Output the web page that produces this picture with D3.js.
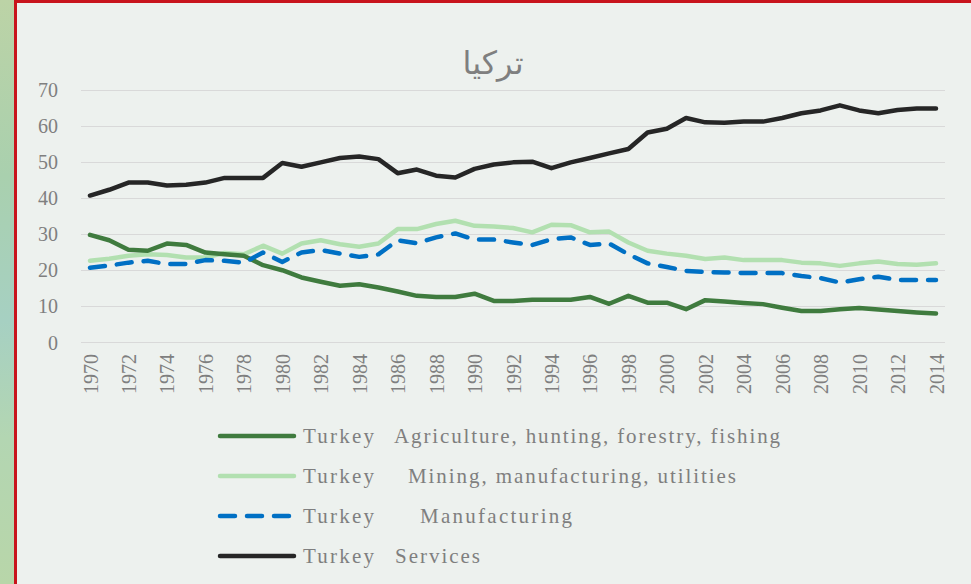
<!DOCTYPE html>
<html>
<head>
<meta charset="utf-8">
<script src="https://cdn.jsdelivr.net/npm/d3@7"></script>
<style>
  html, body { margin: 0; padding: 0; background: #EDF1EE; overflow: hidden; }
  svg { display: block; }
  .serif { font-family: "Liberation Serif", "Times New Roman", serif; }
</style>
</head>
<body>
<svg id="chart" width="971" height="584"></svg>
<script>
const years = d3.range(1970, 2015);
const agriculture = [29.7,28.2,25.6,25.3,27.3,26.9,24.8,24.3,23.9,21.3,19.9,17.9,16.7,15.6,16.0,15.1,14.0,12.8,12.5,12.5,13.4,11.4,11.4,11.7,11.7,11.7,12.5,10.6,12.8,10.9,10.9,9.1,11.6,11.2,10.8,10.5,9.5,8.6,8.6,9.1,9.4,9.0,8.6,8.2,7.9];
const mining = [22.5,23.1,23.9,24.3,24.1,23.4,23.4,24.7,24.3,26.7,24.5,27.3,28.2,27.1,26.4,27.3,31.3,31.3,32.7,33.6,32.2,32.0,31.6,30.4,32.5,32.4,30.4,30.6,27.6,25.3,24.5,23.9,23.0,23.4,22.7,22.7,22.7,22.0,21.8,21.1,21.8,22.3,21.6,21.4,21.8];
const manufacturing = [20.6,21.2,22.0,22.5,21.6,21.6,22.7,22.5,22.0,24.8,22.2,24.8,25.5,24.5,23.6,24.3,28.2,27.4,29.0,30.1,28.4,28.4,27.6,26.9,28.5,29.0,26.9,27.3,24.3,21.8,20.8,19.7,19.4,19.3,19.1,19.1,19.1,18.3,17.7,16.5,17.4,18.1,17.2,17.2,17.2];
const services = [40.6,42.2,44.2,44.2,43.4,43.6,44.2,45.5,45.5,45.5,49.6,48.6,49.8,51.0,51.4,50.7,46.8,47.8,46.1,45.6,48.0,49.2,49.8,50.0,48.2,49.8,51.0,52.3,53.5,58.1,59.1,62.1,60.9,60.8,61.1,61.1,62.1,63.4,64.2,65.6,64.2,63.4,64.3,64.7,64.7];
const yTicks = [0,10,20,30,40,50,60,70];
const xTickYears = d3.range(1970, 2015, 2);
const title = "تركيا";
const seriesNames = ["Agriculture, hunting, forestry, fishing", "Mining, manufacturing, utilities", "Manufacturing", "Services"];
const country = "Turkey";

const svg = d3.select("#chart");
const W = 971, H = 584;

// background decoration
const defs = svg.append("defs");
const g1 = defs.append("linearGradient").attr("id","leftTex").attr("x1",0).attr("y1",0).attr("x2",0).attr("y2",1);
[["0%","#bcd3a6"],["30%","#a9d0ae"],["55%","#a6d0c2"],["75%","#b3d6b2"],["100%","#b8d6a9"]].forEach(s=>g1.append("stop").attr("offset",s[0]).attr("stop-color",s[1]));
svg.append("rect").attr("x",0).attr("y",0).attr("width",W).attr("height",H).attr("fill","#EDF1EE");
svg.append("rect").attr("x",0).attr("y",0).attr("width",14).attr("height",H).attr("fill","url(#leftTex)");
svg.append("rect").attr("x",14).attr("y",0).attr("width",3).attr("height",H).attr("fill","#C8141C");
svg.append("rect").attr("x",14).attr("y",0).attr("width",W-14).attr("height",3).attr("fill","#C8141C");

const x = d3.scaleLinear().domain([1970, 2014]).range([90, 936]);
const y = d3.scaleLinear().domain([0, 70]).range([342, 89.5]);

// gridlines
svg.append("g").selectAll("line").data(yTicks).join("line")
  .attr("x1", 81).attr("x2", 945)
  .attr("y1", d => Math.round(y(d)) + 0.5).attr("y2", d => Math.round(y(d)) + 0.5)
  .attr("stroke", "#D9D9D9").attr("stroke-width", 1);

// y axis labels
const yAxis = d3.axisLeft(y).tickValues(yTicks).tickSize(0).tickPadding(0);
const yg = svg.append("g").attr("transform", "translate(58,0)").call(yAxis)
  .attr("font-family", null).attr("font-size", null);
yg.select(".domain").remove();
yg.selectAll("text").attr("class", "serif")
  .style("font-size", "20px").attr("fill", "#7F7F7F").attr("dy", "0.35em");

// x axis labels
const xAxis = d3.axisBottom(x).tickValues(xTickYears).tickFormat(d3.format("d")).tickSize(0).tickPadding(0);
const xg = svg.append("g").attr("transform", "translate(0,354)").call(xAxis)
  .attr("font-family", null).attr("font-size", null);
xg.select(".domain").remove();
xg.selectAll("text").attr("class", "serif")
  .style("font-size", "20px").attr("fill", "#7F7F7F")
  .attr("text-anchor", "end")
  .attr("transform", "rotate(-90)")
  .attr("x", 0).attr("y", 0).attr("dy", "0.35em");

// title
svg.append("text").attr("x", 493).attr("y", 74).attr("text-anchor", "middle")
  .style("font-family", "'DejaVu Sans', sans-serif").style("font-size", "32px")
  .attr("fill", "#7F7F7F").text(title);

const series = [
  {name: seriesNames[0], values: agriculture, color: "#3F7B3E", dash: null},
  {name: seriesNames[1], values: mining, color: "#B2E0B0", dash: null},
  {name: seriesNames[2], values: manufacturing, color: "#0070C4", dash: "15,12"},
  {name: seriesNames[3], values: services, color: "#262626", dash: null}
];

const line = d3.line().x((d, i) => x(years[i])).y(d => y(d));
const drawOrder = [1, 0, 2, 3];
drawOrder.forEach(k => {
  const s = series[k];
  svg.append("path").datum(s.values)
    .attr("d", line).attr("fill", "none")
    .attr("stroke", s.color).attr("stroke-width", 4.5)
    .attr("stroke-linejoin", "round")
    .attr("stroke-linecap", "round")
    .attr("stroke-dasharray", s.dash);
});

// legend
const legRows = [436, 476, 516, 556];
const nameStarts = [394, 408, 420, 395];
const nameEnds = [780, 736, 572, 480];
series.forEach((s, i) => {
  const ly = legRows[i];
  svg.append("line").attr("x1", 220).attr("x2", 294).attr("y1", ly).attr("y2", ly)
    .attr("stroke", s.color).attr("stroke-width", 4.5).attr("stroke-linecap", "round")
    .attr("stroke-dasharray", s.dash ? "15,12" : null);
  svg.append("text").attr("class", "serif").attr("x", 303).attr("y", ly + 7)
    .style("font-size", "21px").attr("fill", "#7F7F7F")
    .attr("textLength", 71).attr("lengthAdjust", "spacing")
    .text(country);
  svg.append("text").attr("class", "serif").attr("x", nameStarts[i]).attr("y", ly + 7)
    .style("font-size", "21px").attr("fill", "#7F7F7F")
    .attr("textLength", nameEnds[i] - nameStarts[i]).attr("lengthAdjust", "spacing")
    .text(s.name);
});
</script>
</body>
</html>
